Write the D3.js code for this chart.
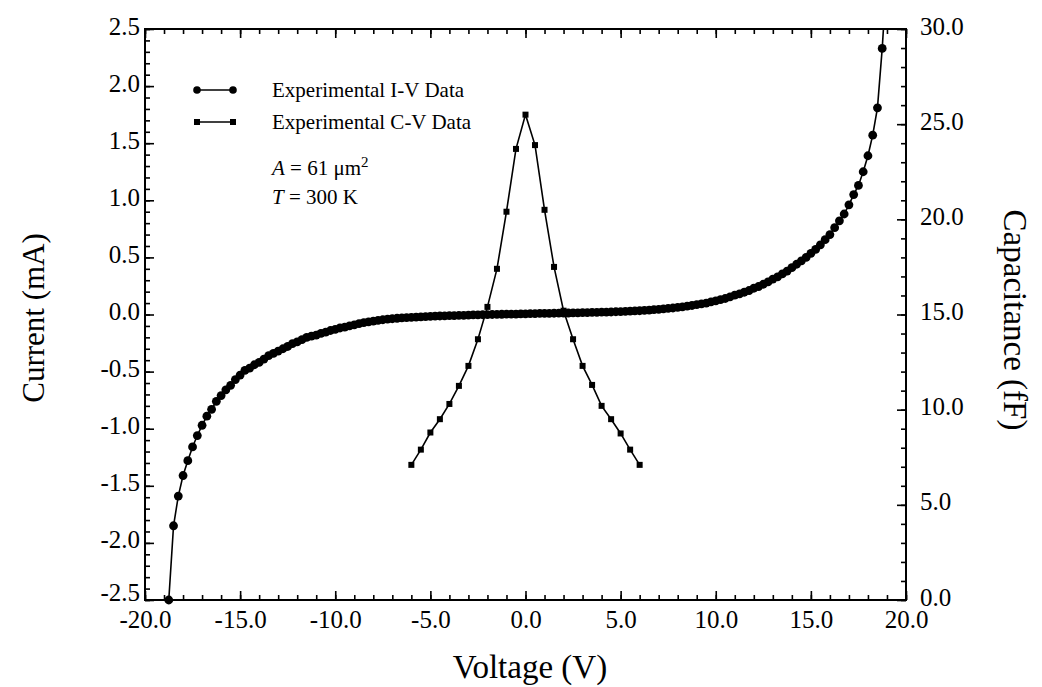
<!DOCTYPE html>
<html>
<head>
<meta charset="utf-8">
<title>I-V and C-V</title>
<script src="https://d3js.org/d3.v7.min.js"></script>
<style>
  body { margin: 0; background: #fff; }
  svg { display: block; }
  text { font-family: "Liberation Serif", "Times New Roman", serif; fill: #000; }
</style>
</head>
<body>
<svg id="viz" width="1042" height="687"></svg>
<script>
// I-V data: voltage (V) vs current (mA), 0.25 V steps
const ivVoltage = d3.range(-18.75, 19.001, 0.25)
const ivCurrent = [
  -2.50, -1.85, -1.59, -1.41, -1.28, -1.16, -1.06, -0.97, -0.89, -0.83,
  -0.76, -0.71, -0.66, -0.62, -0.57, -0.53, -0.49, -0.47, -0.44, -0.42,
  -0.39, -0.36, -0.34, -0.32, -0.30, -0.28, -0.255, -0.24, -0.22, -0.20,
  -0.19, -0.18, -0.165, -0.155, -0.14, -0.13, -0.118, -0.11, -0.10, -0.09,
  -0.08, -0.072, -0.065, -0.058, -0.052, -0.046, -0.041, -0.037, -0.033, -0.030,
  -0.027, -0.025, -0.023, -0.021, -0.019, -0.017, -0.015, -0.013, -0.012, -0.010,
  -0.009, -0.008, -0.007, -0.005, -0.004, -0.003, -0.002, -0.001, 0.000, 0.001,
  0.002, 0.003, 0.004, 0.004, 0.005, 0.006, 0.007, 0.008, 0.009, 0.009,
  0.010, 0.011, 0.012, 0.013, 0.013, 0.014, 0.015, 0.016, 0.017, 0.018,
  0.019, 0.020, 0.021, 0.022, 0.024, 0.025, 0.027, 0.029, 0.031, 0.033,
  0.036, 0.039, 0.042, 0.045, 0.049, 0.053, 0.057, 0.062, 0.067, 0.073,
  0.079, 0.086, 0.093, 0.100, 0.110, 0.120, 0.130, 0.140, 0.155, 0.170,
  0.180, 0.195, 0.210, 0.230, 0.245, 0.265, 0.285, 0.310, 0.330, 0.355,
  0.380, 0.410, 0.440, 0.470, 0.500, 0.535, 0.570, 0.610, 0.655, 0.700,
  0.760, 0.820, 0.880, 0.960, 1.050, 1.130, 1.250, 1.390, 1.570, 1.810,
  2.330, 3.000
]

// C-V data: voltage (V) vs capacitance (fF), 0.5 V steps
const cvVoltage = d3.range(-6, 6.001, 0.5)
const cvCapacitance = [
  7.1, 7.9, 8.8, 9.5, 10.3, 11.25, 12.3, 13.7, 15.4, 17.4, 20.4, 23.7, 25.5,
  23.9, 20.5, 17.5, 15.2, 13.7, 12.3, 11.3, 10.2, 9.5, 8.75, 7.9, 7.1
]

const xMajor = [-20, -15, -10, -5, 0, 5, 10, 15, 20]
const currentMajor = [-2.5, -2.0, -1.5, -1.0, -0.5, 0.0, 0.5, 1.0, 1.5, 2.0, 2.5]
const capMajor = [0, 5, 10, 15, 20, 25, 30]

const legendLabels = ["Experimental I-V Data", "Experimental C-V Data"]

const ivData = ivVoltage.map((v, i) => ({ v: v, y: ivCurrent[i] }))
const cvData = cvVoltage.map((v, i) => ({ v: v, y: cvCapacitance[i] }))

const mLeft = 145, mRight = 906, mTop = 29, mBottom = 600
const svg = d3.select("#viz")

const x = d3.scaleLinear().domain([-20, 20]).range([mLeft, mRight])
const yI = d3.scaleLinear().domain([-2.5, 2.5]).range([mBottom, mTop])
const yC = d3.scaleLinear().domain([0, 30]).range([mBottom, mTop])

const fmt = d => d.toFixed(1)
const tickFont = 25

// minor ticks
const xMinor = d3.range(-20, 20.001, 1)
const iMinor = d3.range(-2.5, 2.5001, 0.1)
const cMinor = d3.range(0, 30.001, 1)

function axisGroup(gen, transform) {
  const g = svg.append("g").attr("transform", transform).call(gen)
  g.select(".domain").remove()
  g.selectAll("line").attr("stroke", "#000").attr("stroke-width", 1.6)
  g.selectAll("text").attr("font-size", tickFont)
    .attr("font-family", '"Liberation Serif", "Times New Roman", serif')
  return g
}

// bottom
axisGroup(d3.axisBottom(x).tickValues(xMinor).tickSize(-5).tickFormat(""), `translate(0,${mBottom})`)
axisGroup(d3.axisBottom(x).tickValues(xMajor).tickSize(-9).tickPadding(10).tickFormat(fmt), `translate(0,${mBottom})`)
// top
axisGroup(d3.axisTop(x).tickValues(xMinor).tickSize(-5).tickFormat(""), `translate(0,${mTop})`)
axisGroup(d3.axisTop(x).tickValues(xMajor).tickSize(-9).tickFormat(""), `translate(0,${mTop})`)
// left (labels sit a touch above their ticks, the lowest one more so)
axisGroup(d3.axisLeft(yI).tickValues(iMinor).tickSize(-5).tickFormat(""), `translate(${mLeft},0)`)
axisGroup(d3.axisLeft(yI).tickValues(currentMajor).tickSize(-9).tickPadding(5).tickFormat(fmt), `translate(${mLeft},0)`)
  .selectAll("text").attr("dy", d => d === -2.5 ? "0em" : "0.2em")
// right
axisGroup(d3.axisRight(yC).tickValues(cMinor).tickSize(-5).tickFormat(""), `translate(${mRight},0)`)
axisGroup(d3.axisRight(yC).tickValues(capMajor).tickSize(-9).tickPadding(14).tickFormat(fmt), `translate(${mRight},0)`)
  .selectAll("text").attr("dy", "0.2em")

// frame
svg.append("rect")
  .attr("x", mLeft).attr("y", mTop)
  .attr("width", mRight - mLeft).attr("height", mBottom - mTop)
  .attr("fill", "none").attr("stroke", "#000").attr("stroke-width", 2)

// clip (lines only, so the end dot on the axis stays whole)
svg.append("clipPath").attr("id", "plotclip")
  .append("rect").attr("x", mLeft).attr("y", mTop - 1)
  .attr("width", mRight - mLeft).attr("height", mBottom - mTop + 2)

const plot = svg.append("g")

// I-V series
plot.append("path")
  .datum(ivData)
  .attr("clip-path", "url(#plotclip)")
  .attr("d", d3.line().x(d => x(d.v)).y(d => yI(d.y)))
  .attr("fill", "none").attr("stroke", "#000").attr("stroke-width", 1.6)
plot.selectAll("circle.iv")
  .data(ivData.filter(d => d.y <= 2.5)).enter()
  .append("circle").attr("class", "iv")
  .attr("cx", d => x(d.v)).attr("cy", d => yI(d.y))
  .attr("r", 4.4).attr("fill", "#000")

// C-V series
plot.append("path")
  .datum(cvData)
  .attr("d", d3.line().x(d => x(d.v)).y(d => yC(d.y)))
  .attr("fill", "none").attr("stroke", "#000").attr("stroke-width", 1.6)
plot.selectAll("rect.cv")
  .data(cvData).enter()
  .append("rect").attr("class", "cv")
  .attr("x", d => x(d.v) - 3).attr("y", d => yC(d.y) - 3)
  .attr("width", 6).attr("height", 6).attr("fill", "#000")

// legend
const legend = svg.append("g")
const legY = [90, 122]
legend.append("line").attr("x1", 197).attr("x2", 233).attr("y1", legY[0]).attr("y2", legY[0])
  .attr("stroke", "#000").attr("stroke-width", 1.6)
legend.selectAll("circle").data([197, 233]).enter().append("circle")
  .attr("cx", d => d).attr("cy", legY[0]).attr("r", 3.8).attr("fill", "#000")
legend.append("line").attr("x1", 197).attr("x2", 233).attr("y1", legY[1]).attr("y2", legY[1])
  .attr("stroke", "#000").attr("stroke-width", 1.6)
legend.selectAll("rect").data([197, 233]).enter().append("rect")
  .attr("x", d => d - 3).attr("y", legY[1] - 3).attr("width", 6).attr("height", 6).attr("fill", "#000")
legend.selectAll("text.lab").data(legendLabels).enter().append("text")
  .attr("class", "lab")
  .attr("x", 272).attr("y", (d, i) => legY[i] + 7)
  .attr("font-size", 21).text(d => d)

const aText = svg.append("text").attr("x", 272).attr("y", 175).attr("font-size", 21)
aText.append("tspan").attr("font-style", "italic").text("A")
aText.append("tspan").text(" = 61 \u03bcm")
aText.append("tspan").attr("dy", -8).attr("font-size", 15).text("2")

const tText = svg.append("text").attr("x", 272).attr("y", 204).attr("font-size", 21)
tText.append("tspan").attr("font-style", "italic").text("T")
tText.append("tspan").text(" = 300 K")

// axis titles
svg.append("text")
  .attr("x", 530).attr("y", 678)
  .attr("text-anchor", "middle").attr("font-size", 33)
  .text("Voltage (V)")

svg.append("text")
  .attr("transform", `translate(44,318) rotate(-90)`)
  .attr("text-anchor", "middle").attr("font-size", 31)
  .text("Current (mA)")

svg.append("text")
  .attr("transform", `translate(1004,320) rotate(90)`)
  .attr("text-anchor", "middle").attr("font-size", 33)
  .text("Capacitance (fF)")
</script>
</body>
</html>
